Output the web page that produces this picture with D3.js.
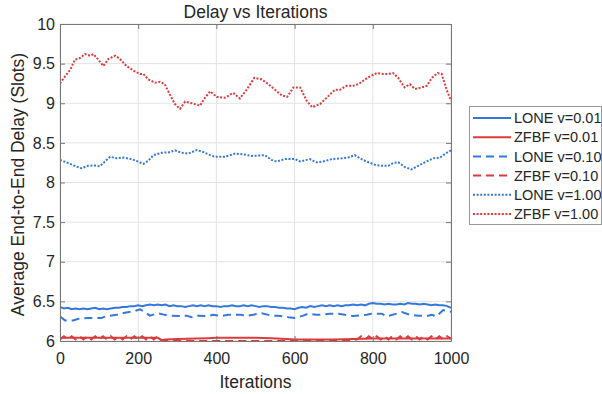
<!DOCTYPE html>
<html>
<head>
<meta charset="utf-8">
<script src="https://cdn.jsdelivr.net/npm/d3@7"></script>
<style>
  body { margin: 0; background: #fff; }
  text { font-family: "Liberation Sans", Arial, sans-serif; fill: #262626; }
</style>
</head>
<body>
<script>
// ---- data ----
const xTicks = [0, 200, 400, 600, 800, 1000];
const yTicks = [6, 6.5, 7, 7.5, 8, 8.5, 9, 9.5, 10];

const step10 = d3.range(0, 1001, 10);

const loneV001 = [6.43, 6.41, 6.42, 6.40, 6.41, 6.40, 6.41, 6.40, 6.41, 6.42,
  6.40, 6.41, 6.40, 6.41, 6.42, 6.42, 6.43, 6.43, 6.44, 6.44,
  6.45, 6.44, 6.45, 6.46, 6.45, 6.46, 6.45, 6.46, 6.44, 6.45,
  6.44, 6.44, 6.43, 6.44, 6.45, 6.44, 6.45, 6.44, 6.45, 6.44,
  6.44, 6.43, 6.44, 6.44, 6.45, 6.44, 6.44, 6.45, 6.44, 6.45,
  6.44, 6.43, 6.44, 6.44, 6.43, 6.43, 6.42, 6.42, 6.41, 6.41,
  6.40, 6.42, 6.43, 6.42, 6.44, 6.43, 6.44, 6.45, 6.44, 6.45,
  6.44, 6.45, 6.44, 6.45, 6.45, 6.46, 6.45, 6.46, 6.45, 6.47,
  6.48, 6.47, 6.47, 6.46, 6.47, 6.46, 6.46, 6.47, 6.46, 6.48,
  6.47, 6.47, 6.46, 6.47, 6.46, 6.45, 6.46, 6.45, 6.45, 6.44, 6.42];

const zfbfV001Iter = [0, 50, 100, 150, 200, 250, 260, 270, 300, 350, 380, 400, 450, 500,
  540, 580, 600, 650, 700, 750, 800, 850, 900, 950, 1000];
const zfbfV001 = [6.04, 6.04, 6.04, 6.04, 6.04, 6.04, 6.01, 6.02, 6.025, 6.03, 6.035, 6.04, 6.04, 6.04,
  6.035, 6.025, 6.02, 6.02, 6.02, 6.025, 6.03, 6.03, 6.03, 6.03, 6.03];

const loneV010Iter = [0, 13, 34, 47, 72, 106, 119, 145, 166, 188, 205, 217, 230, 251, 268, 281,
  307, 324, 336, 353, 379, 392, 413, 430, 464, 477, 503, 516, 541, 558, 584, 601, 622, 635,
  656, 669, 690, 712, 742, 750, 784, 797, 823, 835, 861, 874, 895, 916, 938, 951, 963, 980, 1000];
const loneV010 = [6.31, 6.26, 6.26, 6.28, 6.29, 6.29, 6.315, 6.33, 6.357, 6.374, 6.40, 6.365, 6.32, 6.35, 6.33, 6.32,
  6.315, 6.32, 6.30, 6.32, 6.315, 6.33, 6.315, 6.33, 6.33, 6.315, 6.34, 6.35, 6.32, 6.32, 6.30, 6.29, 6.32, 6.345,
  6.33, 6.33, 6.345, 6.345, 6.32, 6.315, 6.33, 6.345, 6.345, 6.31, 6.345, 6.365, 6.33, 6.32, 6.315, 6.33, 6.31, 6.39, 6.37];

const zfbfV010 = [6.02, 6.06, 6.02, 6.06, 6.02, 6.06, 6.02, 6.06, 6.02, 6.06,
  6.02, 6.06, 6.02, 6.06, 6.02, 6.06, 6.02, 6.06, 6.02, 6.06,
  6.02, 6.06, 6.02, 6.06, 6.02, 6.06, 6.01, 6.00, 6.00, 6.00,
  6.00, 6.00, 6.00, 6.00, 6.00, 6.00, 6.00, 6.00, 6.00, 6.00,
  6.00, 6.00, 6.00, 6.00, 6.00, 6.00, 6.00, 6.00, 6.00, 6.00,
  6.00, 6.00, 6.00, 6.00, 6.00, 6.00, 6.00, 6.00, 6.00, 6.00,
  6.00, 6.00, 6.00, 6.00, 6.00, 6.00, 6.00, 6.00, 6.00, 6.00,
  6.00, 6.00, 6.00, 6.00, 6.00, 6.01, 6.02, 6.06, 6.02, 6.06,
  6.02, 6.06, 6.02, 6.06, 6.02, 6.06, 6.02, 6.06, 6.02, 6.06,
  6.02, 6.06, 6.02, 6.06, 6.02, 6.06, 6.02, 6.06, 6.02, 6.06, 6.03];

const loneV100Iter = [0, 21, 38, 54, 72, 89, 102, 115, 128, 145, 162, 183, 199, 213, 226, 239, 260, 277, 294, 311,
  328, 350, 366, 384, 396, 422, 448, 469, 490, 524, 541, 554, 575, 601, 614, 639, 656, 673, 695, 720,
  737, 754, 767, 784, 805, 822, 840, 852, 865, 882, 899, 916, 933, 955, 972, 989, 1000];
const loneV100 = [8.285, 8.245, 8.21, 8.18, 8.21, 8.215, 8.205, 8.265, 8.325, 8.305,
  8.315, 8.295, 8.265, 8.235, 8.275, 8.345, 8.375, 8.38, 8.405, 8.375,
  8.365, 8.41, 8.385, 8.345, 8.325, 8.325, 8.365, 8.355, 8.335, 8.345,
  8.285, 8.265, 8.295, 8.295, 8.265, 8.295, 8.255, 8.265, 8.295, 8.305,
  8.315, 8.345, 8.305, 8.265, 8.225, 8.21, 8.21, 8.245, 8.255, 8.195,
  8.165, 8.21, 8.255, 8.305, 8.315, 8.375, 8.405];

const zfbfV100Iter = [0, 13, 26, 38, 51, 64, 77, 85, 98, 111, 124, 141, 153, 170, 192, 205, 213, 226, 243, 256,
  268, 281, 294, 307, 320, 337, 358, 371, 384, 401, 422, 443, 460, 477, 497, 516, 533, 550, 567, 581,
  597, 614, 631, 645, 665, 682, 703, 716, 733, 750, 763, 780, 793, 810, 827, 840, 852, 865, 881, 895,
  908, 925, 938, 951, 966, 976, 989, 1000];
const zfbfV100 = [9.25, 9.34, 9.42, 9.55, 9.57, 9.62, 9.60, 9.62, 9.55, 9.47,
  9.56, 9.60, 9.56, 9.47, 9.40, 9.37, 9.37, 9.30, 9.26, 9.27,
  9.24, 9.11, 8.99, 8.93, 9.02, 9.00, 8.97, 9.07, 9.15, 9.08,
  9.07, 9.13, 9.06, 9.17, 9.32, 9.30, 9.24, 9.17, 9.10, 9.08,
  9.20, 9.20, 9.03, 8.95, 8.99, 9.07, 9.17, 9.17, 9.22, 9.22,
  9.24, 9.30, 9.34, 9.38, 9.37, 9.37, 9.38, 9.32, 9.20, 9.24,
  9.18, 9.20, 9.22, 9.32, 9.38, 9.37, 9.17, 9.03];

const blue = "#3478dc";
const red = "#dd3a3c";

const series = [
  { name: "LONE v=0.01", iter: step10, vals: loneV001, color: blue, dash: null },
  { name: "ZFBF v=0.01", iter: zfbfV001Iter, vals: zfbfV001, color: red, dash: null },
  { name: "LONE v=0.10", iter: loneV010Iter, vals: loneV010, color: blue, dash: "8,5" },
  { name: "ZFBF v=0.10", iter: step10, vals: zfbfV010, color: red, dash: "8,5" },
  { name: "LONE v=1.00", iter: loneV100Iter, vals: loneV100, color: blue, dash: "2,1.6" },
  { name: "ZFBF v=1.00", iter: zfbfV100Iter, vals: zfbfV100, color: red, dash: "2,1.6" }
];

// ---- layout ----
const width = 602, height = 394;
const plotLeft = 60, plotRight = 451, plotTop = 24, plotBottom = 341;

const svg = d3.select("body").append("svg")
  .attr("width", width)
  .attr("height", height);

const x = d3.scaleLinear().domain([0, 1000]).range([plotLeft, plotRight]);
const y = d3.scaleLinear().domain([6, 10]).range([plotBottom, plotTop]);

// grid
svg.append("g")
  .selectAll("line")
  .data(xTicks)
  .enter().append("line")
  .attr("x1", d => x(d)).attr("x2", d => x(d))
  .attr("y1", plotTop).attr("y2", plotBottom)
  .attr("stroke", "#e3e3e3");

svg.append("g")
  .selectAll("line")
  .data(yTicks)
  .enter().append("line")
  .attr("x1", plotLeft).attr("x2", plotRight)
  .attr("y1", d => y(d)).attr("y2", d => y(d))
  .attr("stroke", "#e3e3e3");

// lines
svg.append("clipPath").attr("id", "clip")
  .append("rect")
  .attr("x", plotLeft).attr("y", plotTop)
  .attr("width", plotRight - plotLeft).attr("height", plotBottom - plotTop);

const line = d3.line()
  .x(d => x(d[0]))
  .y(d => y(d[1]));

svg.append("g")
  .attr("clip-path", "url(#clip)")
  .selectAll("path")
  .data(series)
  .enter().append("path")
  .attr("d", s => line(s.iter.map((t, i) => [t, s.vals[i]])))
  .attr("fill", "none")
  .attr("stroke", s => s.color)
  .attr("stroke-width", 2)
  .attr("stroke-dasharray", s => s.dash);

// axes
const axisColor = "#777";
const fmt = d3.format("~g");

const xAxis = svg.append("g")
  .attr("transform", "translate(0," + plotBottom + ")")
  .call(d3.axisBottom(x).tickValues(xTicks).tickFormat(fmt).tickSizeInner(-5).tickSizeOuter(0).tickPadding(12));
const xAxisTop = svg.append("g")
  .attr("transform", "translate(0," + plotTop + ")")
  .call(d3.axisTop(x).tickValues(xTicks).tickSizeInner(-5).tickSizeOuter(0).tickFormat(""));
const yAxis = svg.append("g")
  .attr("transform", "translate(" + plotLeft + ",0)")
  .call(d3.axisLeft(y).tickValues(yTicks).tickFormat(fmt).tickSizeInner(-5).tickSizeOuter(0).tickPadding(5));
const yAxisRight = svg.append("g")
  .attr("transform", "translate(" + plotRight + ",0)")
  .call(d3.axisRight(y).tickValues(yTicks).tickSizeInner(-5).tickSizeOuter(0).tickFormat(""));

[xAxis, xAxisTop, yAxis, yAxisRight].forEach(g => {
  g.select(".domain").attr("stroke", axisColor);
  g.selectAll(".tick line").attr("stroke", axisColor);
  g.selectAll(".tick text")
    .attr("fill", "#262626")
    .style("font-family", "'Liberation Sans', Arial, sans-serif")
    .style("font-size", "16px");
});

// titles
svg.append("text")
  .attr("x", (plotLeft + plotRight) / 2)
  .attr("y", 18)
  .attr("text-anchor", "middle")
  .style("font-size", "17.5px")
  .text("Delay vs Iterations");

svg.append("text")
  .attr("x", (plotLeft + plotRight) / 2)
  .attr("y", 388)
  .attr("text-anchor", "middle")
  .style("font-size", "17.5px")
  .text("Iterations");

svg.append("text")
  .attr("transform", "translate(24," + ((plotTop + plotBottom) / 2 + 2) + ") rotate(-90)")
  .attr("text-anchor", "middle")
  .style("font-size", "17.5px")
  .text("Average End-to-End Delay (Slots)");

// legend
const legend = svg.append("g").attr("transform", "translate(469,106)");

legend.append("rect")
  .attr("x", 0.5).attr("y", 0.5)
  .attr("width", 132).attr("height", 118)
  .attr("fill", "#fff")
  .attr("stroke", "#999");

const item = legend.selectAll("g.item")
  .data(series)
  .enter().append("g")
  .attr("class", "item")
  .attr("transform", (d, i) => "translate(0," + (12 + i * 19.2) + ")");

item.append("line")
  .attr("x1", 4).attr("x2", 42)
  .attr("stroke", d => d.color)
  .attr("stroke-width", 2)
  .attr("stroke-dasharray", d => d.dash);

item.append("text")
  .attr("x", 45)
  .attr("dy", "0.36em")
  .style("font-size", "14.5px")
  .text(d => d.name);
</script>
</body>
</html>
